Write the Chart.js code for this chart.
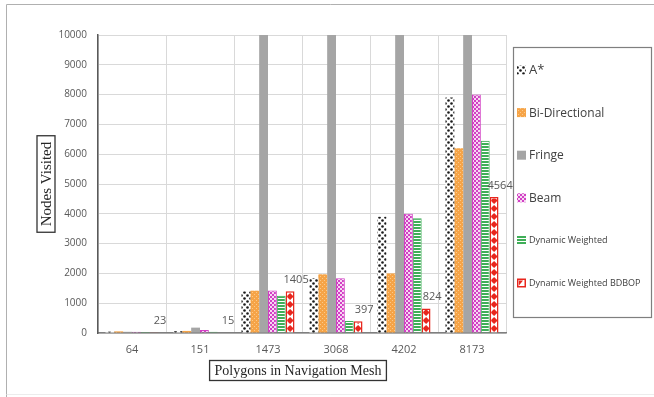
<!DOCTYPE html>
<html>
<head>
<meta charset="utf-8">
<script src="https://cdn.jsdelivr.net/npm/chart.js@4/dist/chart.umd.min.js"></script>
<style>
  html, body { margin: 0; padding: 0; background: #ffffff; }
  #wrap { position: relative; width: 654px; height: 397px; }
</style>
</head>
<body>
<div id="wrap"><canvas id="c" width="654" height="397"></canvas></div>
<script>
// Polygon counts of the navigation meshes tested
const categories = ['64', '151', '1473', '3068', '4202', '8173'];

// Nodes visited per search algorithm
const aStar          = [45, 60, 1400, 1840, 3900, 7900];
const biDirectional  = [55, 70, 1420, 1970, 2000, 6200];
const fringe         = [40, 180, 15000, 15000, 15000, 15000]; // runs off the top of the axis
const beam           = [45, 100, 1430, 1840, 4000, 8000];
const dynWeighted    = [35, 40, 1250, 400, 3850, 6450];
const dynWeightedBD  = [23, 15, 1405, 397, 824, 4564];

const yTicks = [0, 1000, 2000, 3000, 4000, 5000, 6000, 7000, 8000, 9000, 10000];

function makePattern(w, h, paint) {
  const cv = document.createElement('canvas');
  cv.width = w; cv.height = h;
  const g = cv.getContext('2d');
  paint(g);
  return document.getElementById('c').getContext('2d').createPattern(cv, 'repeat');
}

const patAStar = makePattern(6, 6, g => {
  g.fillStyle = '#ffffff'; g.fillRect(0, 0, 6, 6);
  g.fillStyle = '#1a1a1a';
  g.beginPath(); g.arc(1.5, 1.5, 1.3, 0, Math.PI * 2); g.fill();
  g.beginPath(); g.arc(4.5, 4.5, 1.3, 0, Math.PI * 2); g.fill();
});
const patBi = makePattern(4, 4, g => {
  g.fillStyle = '#f6a447'; g.fillRect(0, 0, 4, 4);
  g.fillStyle = '#fbc98a';
  g.fillRect(0, 0, 1, 1); g.fillRect(2, 2, 1, 1);
});
const patBeam = makePattern(4, 4, g => {
  g.fillStyle = '#d23fc4'; g.fillRect(0, 0, 4, 4);
  g.fillStyle = '#f6d7f2';
  g.fillRect(0, 0, 2, 2); g.fillRect(2, 2, 2, 2);
});
const patDW = makePattern(4, 3, g => {
  g.fillStyle = '#3fae58'; g.fillRect(0, 0, 4, 3);
  g.fillStyle = '#ffffff'; g.fillRect(0, 1, 4, 1);
});

const swatches = [patAStar, patBi, '#a5a5a5', patBeam, patDW, '#ffffff'];

// Red diamonds inside the BDBOP bars, plus value labels above them
const bdbopDecor = {
  id: 'bdbopDecor',
  afterDatasetsDraw(chart) {
    const ctx = chart.ctx;
    const meta = chart.getDatasetMeta(5);
    meta.data.forEach((bar, i) => {
      const p = bar.getProps(['x', 'y', 'base', 'width'], true);
      const left = p.x - p.width / 2, top = p.y;
      ctx.save();
      ctx.beginPath();
      ctx.rect(left + 1.5, top + 1.5, p.width - 3, p.base - top - 1.5);
      ctx.clip();
      ctx.fillStyle = '#e8261d';
      for (let yy = p.base - 4; yy > top - 4; yy -= 8) {
        ctx.beginPath();
        ctx.moveTo(p.x, yy - 3.5);
        ctx.lineTo(p.x + 3.5, yy);
        ctx.lineTo(p.x, yy + 3.5);
        ctx.lineTo(p.x - 3.5, yy);
        ctx.closePath();
        ctx.fill();
      }
      ctx.restore();
      ctx.save();
      ctx.fillStyle = '#595959';
      ctx.font = '11px "Open Sans", sans-serif';
      ctx.textAlign = 'center';
      ctx.textBaseline = 'bottom';
      ctx.fillText(String(dynWeightedBD[i]), p.x + 6, top - 6);
      ctx.restore();
    });
  }
};

// Boxed axis titles, the legend box and the outer frame
const frame = {
  id: 'frame',
  afterDraw(chart) {
    const ctx = chart.ctx;
    const a = chart.chartArea;
    ctx.save();
    // outer frame
    ctx.strokeStyle = '#b0b0b0';
    ctx.lineWidth = 1;
    ctx.beginPath();
    ctx.moveTo(6.5, 397); ctx.lineTo(6.5, 4.5); ctx.lineTo(654, 4.5);
    ctx.stroke();
    ctx.strokeStyle = '#ececec';
    ctx.beginPath();
    ctx.moveTo(6.5, 394.5); ctx.lineTo(654, 394.5);
    ctx.stroke();

    // y title
    ctx.font = '15px "Liberation Serif", "DejaVu Serif", serif';
    ctx.fillStyle = '#262626';
    const yText = 'Nodes Visited';
    const yw = ctx.measureText(yText).width;
    const ycx = 46, ycy = (a.top + a.bottom) / 2;
    ctx.save();
    ctx.translate(ycx, ycy);
    ctx.rotate(-Math.PI / 2);
    ctx.textAlign = 'center';
    ctx.textBaseline = 'middle';
    ctx.fillText(yText, 0, 1);
    ctx.strokeStyle = '#333333';
    ctx.lineWidth = 1.3;
    ctx.strokeRect(-yw / 2 - 6, -9, yw + 12, 18);
    ctx.restore();

    // x title
    ctx.font = '14px "Liberation Serif", "DejaVu Serif", serif';
    const xText = 'Polygons in Navigation Mesh';
    const xw = ctx.measureText(xText).width;
    const xcx = 298, xcy = 370.5;
    ctx.textAlign = 'center';
    ctx.textBaseline = 'middle';
    ctx.fillText(xText, xcx, xcy + 1);
    ctx.strokeStyle = '#333333';
    ctx.lineWidth = 1.3;
    ctx.strokeRect(xcx - xw / 2 - 5, xcy - 10, xw + 10, 20);

    // legend
    ctx.strokeStyle = '#7f7f7f';
    ctx.lineWidth = 1.2;
    ctx.strokeRect(513.5, 47.5, 138, 270);
    const sizes = [13, 12, 12, 12, 9, 9];
    chart.data.datasets.forEach((ds, i) => {
      const cy = 70 + i * 42.6;
      const sx = 517, sy = cy - 4.5;
      ctx.fillStyle = swatches[i];
      ctx.fillRect(sx, sy, 9, 9);
      if (i === 5) {
        ctx.strokeStyle = '#e8261d';
        ctx.lineWidth = 1.5;
        ctx.strokeRect(sx + 0.75, sy + 0.75, 7.5, 7.5);
        ctx.fillStyle = '#e8261d';
        ctx.beginPath();
        ctx.moveTo(sx + 2, sy + 2); ctx.lineTo(sx + 6, sy + 2); ctx.lineTo(sx + 2, sy + 7);
        ctx.closePath(); ctx.fill();
      }
      ctx.fillStyle = '#404040';
      ctx.font = sizes[i] + 'px "Open Sans", sans-serif';
      ctx.textAlign = 'left';
      ctx.textBaseline = 'middle';
      ctx.fillText(ds.label, 529, cy + 0.5);
    });
    ctx.restore();
  }
};

const chart = new Chart(document.getElementById('c'), {
  type: 'bar',
  data: {
    labels: categories,
    datasets: [
      { label: 'A*', data: aStar, backgroundColor: patAStar, borderWidth: 0 },
      { label: 'Bi-Directional', data: biDirectional, backgroundColor: patBi, borderWidth: 0 },
      { label: 'Fringe', data: fringe, backgroundColor: '#a5a5a5', borderWidth: 0 },
      { label: 'Beam', data: beam, backgroundColor: patBeam, borderColor: '#d23fc4', borderWidth: 1 },
      { label: 'Dynamic Weighted', data: dynWeighted, backgroundColor: patDW, borderColor: '#3fae58', borderWidth: 1 },
      { label: 'Dynamic Weighted BDBOP', data: dynWeightedBD, backgroundColor: '#ffffff', borderColor: '#e8261d', borderWidth: 1.5 }
    ]
  },
  options: {
    responsive: false,
    animation: false,
    events: [],
    layout: { padding: { top: 35, right: 148, bottom: 0, left: 0 } },
    datasets: { bar: { categoryPercentage: 0.78, barPercentage: 1 } },
    plugins: { legend: { display: false }, tooltip: { enabled: false } },
    scales: {
      x: {
        grid: { color: '#d9d9d9', lineWidth: 1, drawTicks: false, offset: true },
        border: { color: '#7f7f7f', width: 1.5 },
        ticks: { color: '#595959', font: { family: '"Open Sans", sans-serif', size: 11 }, padding: 10 },
        afterFit(s) { s.height = 64; }
      },
      y: {
        min: 0, max: 10000,
        afterBuildTicks(s) { s.ticks = yTicks.map(v => ({ value: v })); },
        grid: { color: '#d9d9d9', lineWidth: 1, drawTicks: false },
        border: { color: '#595959', width: 1.5 },
        ticks: {
          color: '#595959', font: { family: '"Open Sans", sans-serif', size: 10 }, padding: 11,
          callback: v => String(v)
        },
        afterFit(s) { s.width = 98; }
      }
    }
  },
  plugins: [bdbopDecor, frame]
});
</script>
</body>
</html>
